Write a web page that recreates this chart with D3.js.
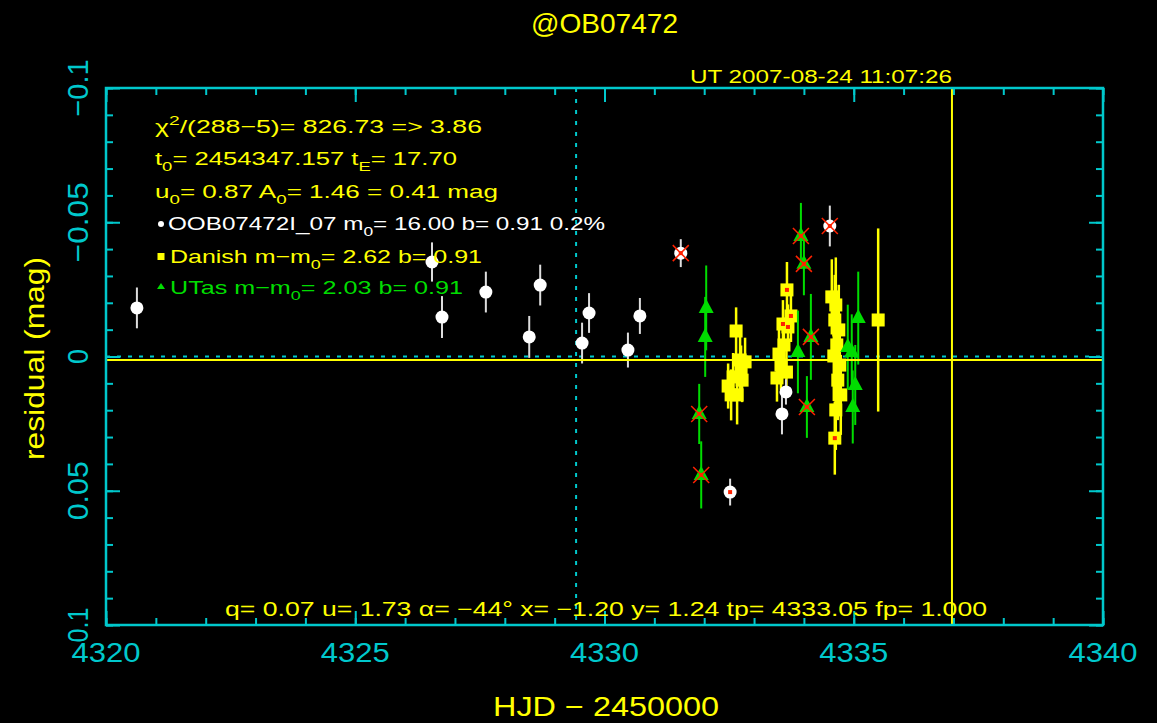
<!DOCTYPE html>
<html><head><meta charset="utf-8">
<script src="https://cdn.jsdelivr.net/npm/d3@7"></script>
<style>html,body{margin:0;padding:0;background:#000;} svg{display:block;}</style>
</head><body>
<svg id="c" width="1157" height="723"></svg>
<script>
// ---------- data ----------
const xDomain = [4320, 4340];
const yDomain = [-0.1, 0.1];
const xTicks = [4320, 4325, 4330, 4335, 4340];
const xTickLabels = ["4320", "4325", "4330", "4335", "4340"];
const yTicks = [-0.1, -0.05, 0, 0.05, 0.1];
const yTickLabels = ["\u22120.1", "\u22120.05", "0", "0.05", "0.1"];

// OGLE (white circles)
const ogleT = [4320.62, 4326.54, 4326.74, 4327.62, 4328.49, 4328.71, 4329.55, 4329.69, 4330.47, 4330.71, 4331.53, 4332.52, 4333.56, 4333.64, 4334.52];
const ogleR = [-0.0181, -0.0352, -0.0147, -0.0240, -0.0073, -0.0266, -0.0050, -0.0162, -0.0024, -0.0151, -0.0385, 0.0505, 0.0214, 0.0132, -0.0486];
const ogleE = [0.0076, 0.0073, 0.0078, 0.0076, 0.0078, 0.0076, 0.0076, 0.0074, 0.0065, 0.0067, 0.0052, 0.0050, 0.0076, 0.0047, 0.0076];
const ogleFlag = [0,0,0,0,0,0,0,0,0,0,1,2,0,0,1];

// Danish (yellow squares)
const danishT = [4332.64, 4332.72, 4332.58, 4332.76, 4332.48, 4332.66, 4332.74, 4332.82, 4332.54,
  4333.66, 4333.74, 4333.58, 4333.68, 4333.60, 4333.50, 4333.54, 4333.46, 4333.65,
  4334.56, 4334.64, 4334.62, 4334.70, 4334.66, 4334.60, 4334.72, 4334.68, 4334.74, 4334.64, 4334.62,
  4335.49];
const danishR = [-0.0095, 0.0013, 0.0076, 0.0088, 0.0110, 0.0143, 0.0058, 0.0020, 0.0143,
  -0.0248, -0.0151, -0.0121, -0.0110, -0.0043, -0.0009, 0.0032, 0.0080, 0.0058,
  -0.0222, -0.0192, -0.0136, -0.0099, -0.0043, -0.0002, 0.0032, 0.0088, 0.0143, 0.0199, 0.0304,
  -0.0136];
const danishE = [0.0088, 0.0112, 0.0089, 0.0082, 0.0084, 0.0110, 0.0099, 0.0090, 0.0095,
  0.0104, 0.0097, 0.0089, 0.0084, 0.0101, 0.0093, 0.0093, 0.0088, 0.0084,
  0.0140, 0.0177, 0.0168, 0.0168, 0.0168, 0.0168, 0.0168, 0.0149, 0.0149, 0.0149, 0.0136,
  0.0341];
const danishFlag = [0,0,0,0,0,0,0,0,0, 2,2,2,2,0,0,0,0,0, 0,0,0,0,0,0,0,0,0,0,2, 0];

// UTas (green triangles)
const utasT = [4332.04, 4332.02, 4331.90, 4331.94, 4333.94, 4334.00, 4333.88, 4334.14, 4334.06, 4335.09, 4334.88, 4334.96, 4335.03, 4334.98];
const utasR = [-0.0181, -0.0073, 0.0214, 0.0441, -0.0449, -0.0345, -0.0017, -0.0073, 0.0188, -0.0143, -0.0035, -0.0017, 0.0106, 0.0188];
const utasE = [0.0158, 0.0149, 0.0112, 0.0125, 0.0123, 0.0117, 0.0154, 0.0160, 0.0115, 0.0173, 0.0158, 0.0140, 0.0149, 0.0136];
const utasFlag = [0,0,1,1,1,1,0,1,1,0,0,0,0,0];

// reference lines
const modelZero = 0.0013;   // yellow solid horizontal
const dottedZero = 0;       // cyan dotted horizontal
const markT = 4329.43;      // cyan dotted vertical
const nowT = 4336.97;       // yellow vertical (UT now)

// ---------- drawing ----------
const CYAN = "#00c8cc", YEL = "#ffff00", GRN = "#00dd00", RED = "#ff2200", WHT = "#ffffff";
const FONT = "'Liberation Sans', Arial, sans-serif";
const svg = d3.select("#c");
svg.append("rect").attr("width", 1157).attr("height", 723).attr("fill", "#000");

const L = 106, R = 1103, T = 88, B = 625;
const x = d3.scaleLinear().domain(xDomain).range([L, R]);
const y = d3.scaleLinear().domain(yDomain).range([T, B]);

// dotted cyan reference lines (under data)
svg.append("line").attr("x1", L).attr("x2", R).attr("y1", y(dottedZero)).attr("y2", y(dottedZero))
  .attr("stroke", CYAN).attr("stroke-width", 2).attr("stroke-dasharray", "4,7");
svg.append("line").attr("x1", x(markT)).attr("x2", x(markT)).attr("y1", T).attr("y2", B)
  .attr("stroke", CYAN).attr("stroke-width", 2).attr("stroke-dasharray", "4,7");

function series(T_, R_, E_, F_, color, barColor, shape, bw) {
  const d = T_.map((t, i) => ({t, r: R_[i], e: E_[i], f: F_[i]}));
  const g = svg.append("g");
  g.selectAll("line.err").data(d).enter().append("line")
    .attr("x1", p => x(p.t)).attr("x2", p => x(p.t))
    .attr("y1", p => y(p.r - p.e)).attr("y2", p => y(p.r + p.e))
    .attr("stroke", barColor).attr("stroke-width", bw);
  if (shape === "circle") {
    g.selectAll("circle").data(d).enter().append("circle")
      .attr("cx", p => x(p.t)).attr("cy", p => y(p.r)).attr("r", 6.5).attr("fill", color);
  } else if (shape === "square") {
    g.selectAll("rect").data(d).enter().append("rect")
      .attr("x", p => x(p.t) - 6.5).attr("y", p => y(p.r) - 6.5).attr("width", 13).attr("height", 13).attr("fill", color);
  } else {
    g.selectAll("path").data(d).enter().append("path")
      .attr("d", p => { const cx = x(p.t), cy = y(p.r); return `M${cx},${cy-9}L${cx+7.5},${cy+5}L${cx-7.5},${cy+5}Z`; })
      .attr("fill", color);
  }
  return d;
}
const dDan = series(danishT, danishR, danishE, danishFlag, YEL, YEL, "square", 2.5);
const dOgle = series(ogleT, ogleR, ogleE, ogleFlag, WHT, "#dddddd", "circle", 2);
const dUtas = series(utasT, utasR, utasE, utasFlag, GRN, GRN, "tri", 2);

// flags
const flagG = svg.append("g");
[].concat(dDan, dOgle, dUtas).forEach(p => {
  if (!p.f) return;
  const cx = x(p.t), cy = y(p.r);
  flagG.append("rect").attr("x", cx - 2).attr("y", cy - 2).attr("width", 4).attr("height", 4).attr("fill", RED);
  if (p.f === 1) {
    flagG.append("path").attr("d", `M${cx-8},${cy-8}L${cx+8},${cy+8}M${cx+8},${cy-8}L${cx-8},${cy+8}`)
      .attr("stroke", RED).attr("stroke-width", 1.5);
  }
});

// yellow lines on top
svg.append("line").attr("x1", L).attr("x2", R).attr("y1", y(modelZero)).attr("y2", y(modelZero))
  .attr("stroke", YEL).attr("stroke-width", 2);
svg.append("line").attr("x1", x(nowT)).attr("x2", x(nowT)).attr("y1", T).attr("y2", B)
  .attr("stroke", YEL).attr("stroke-width", 2);

// frame & ticks
svg.append("rect").attr("x", L).attr("y", T).attr("width", R - L).attr("height", B - T)
  .attr("fill", "none").attr("stroke", CYAN).attr("stroke-width", 2.5);

const xMinor = d3.range(4320, 4341, 1);
const yMinor = d3.range(-10, 11).map(i => i / 100);
function styleAxis(sel) {
  sel.select(".domain").remove();
  sel.selectAll(".tick line").attr("stroke", CYAN).attr("stroke-width", 2);
  sel.selectAll(".tick text").remove();
}
[[xMinor, 7], [xTicks, 14]].forEach(([v, s]) => {
  svg.append("g").attr("transform", `translate(0,${B})`).call(d3.axisBottom(x).tickValues(v).tickSize(-s)).call(styleAxis);
  svg.append("g").attr("transform", `translate(0,${T})`).call(d3.axisTop(x).tickValues(v).tickSize(-s)).call(styleAxis);
});
[[yMinor, 7], [yTicks, 14]].forEach(([v, s]) => {
  svg.append("g").attr("transform", `translate(${L},0)`).call(d3.axisLeft(y).tickValues(v).tickSize(-s)).call(styleAxis);
  svg.append("g").attr("transform", `translate(${R},0)`).call(d3.axisRight(y).tickValues(v).tickSize(-s)).call(styleAxis);
});

// tick labels
xTicks.forEach((v, i) => {
  svg.append("text").attr("x", x(v)).attr("y", 662).attr("text-anchor", "middle")
    .attr("font-family", FONT).attr("font-size", 28).attr("fill", CYAN)
    .attr("textLength", 69).attr("lengthAdjust", "spacingAndGlyphs").text(xTickLabels[i]);
});
const yLabLen = [57, 80, 15, 59, 35];
yTicks.forEach((v, i) => {
  svg.append("text").attr("transform", `translate(87.5,${y(v)}) rotate(-90)`).attr("text-anchor", "middle")
    .attr("font-family", FONT).attr("font-size", 29).attr("fill", CYAN)
    .attr("textLength", yLabLen[i]).attr("lengthAdjust", "spacingAndGlyphs").text(yTickLabels[i]);
});

// axis titles
svg.append("text").attr("x", 606).attr("y", 716).attr("text-anchor", "middle")
  .attr("font-family", FONT).attr("font-size", 27).attr("fill", YEL)
  .attr("textLength", 226).attr("lengthAdjust", "spacingAndGlyphs").text("HJD \u2212 2450000");
svg.append("text").attr("transform", "translate(44,358.5) rotate(-90)").attr("text-anchor", "middle")
  .attr("font-family", FONT).attr("font-size", 27).attr("fill", YEL)
  .attr("textLength", 203).attr("lengthAdjust", "spacingAndGlyphs").text("residual (mag)");

// title & UT
svg.append("text").attr("x", 604.5).attr("y", 33).attr("text-anchor", "middle")
  .attr("font-family", FONT).attr("font-size", 28).attr("fill", YEL)
  .attr("textLength", 147).attr("lengthAdjust", "spacingAndGlyphs").text("@OB07472");
svg.append("text").attr("x", 690).attr("y", 83).attr("font-family", FONT).attr("font-size", 18.5).attr("fill", YEL)
  .attr("textLength", 262).attr("lengthAdjust", "spacingAndGlyphs").text("UT 2007-08-24 11:07:26");

// rich text lines: parts = [text, mode] with mode "", "sub", "sup"
function rich(xp, yp, parts, color, len, size) {
  const t = svg.append("text").attr("x", xp).attr("y", yp).attr("font-family", FONT)
    .attr("font-size", size).attr("fill", color);
  let off = 0;
  parts.forEach(([s, m]) => {
    const target = m === "sub" ? 6 : m === "sup" ? -8 : 0;
    const ts = t.append("tspan").attr("dy", target - off).text(s);
    if (m) ts.attr("font-size", size * 0.72);
    off = target;
  });
  t.attr("textLength", len).attr("lengthAdjust", "spacingAndGlyphs");
  return t;
}
rich(155, 133, [["\u03c7",""],["2","sup"],["/(288\u22125)= 826.73 => 3.86",""]], YEL, 327, 19);
rich(155, 165, [["t",""],["0","sub"],["= 2454347.157 t",""],["E","sub"],["= 17.70",""]], YEL, 302, 19);
rich(155, 198, [["u",""],["0","sub"],["= 0.87 A",""],["0","sub"],["= 1.46 = 0.41 mag",""]], YEL, 343, 19);
rich(168, 230, [["OOB07472I_07 m",""],["0","sub"],["= 16.00 b= 0.91 0.2%",""]], WHT, 437, 19);
rich(170, 263, [["Danish m\u2212m",""],["0","sub"],["= 2.62 b= 0.91",""]], YEL, 312, 19);
rich(170, 294, [["UTas m\u2212m",""],["0","sub"],["= 2.03 b= 0.91",""]], GRN, 293, 19);

// legend symbols
svg.append("circle").attr("cx", 161).attr("cy", 224).attr("r", 3).attr("fill", WHT);
svg.append("rect").attr("x", 157.5).attr("y", 253).attr("width", 7).attr("height", 7).attr("fill", YEL);
svg.append("path").attr("d", "M161,283L165,289L157,289Z").attr("fill", GRN);

// bottom parameter line
svg.append("text").attr("x", 225).attr("y", 616).attr("font-family", FONT).attr("font-size", 20).attr("fill", YEL)
  .attr("textLength", 762).attr("lengthAdjust", "spacingAndGlyphs")
  .text("q= 0.07 u= 1.73 \u03b1= \u221244\u00b0 x= \u22121.20 y= 1.24 tp= 4333.05 fp= 1.000");
</script>
</body></html>
